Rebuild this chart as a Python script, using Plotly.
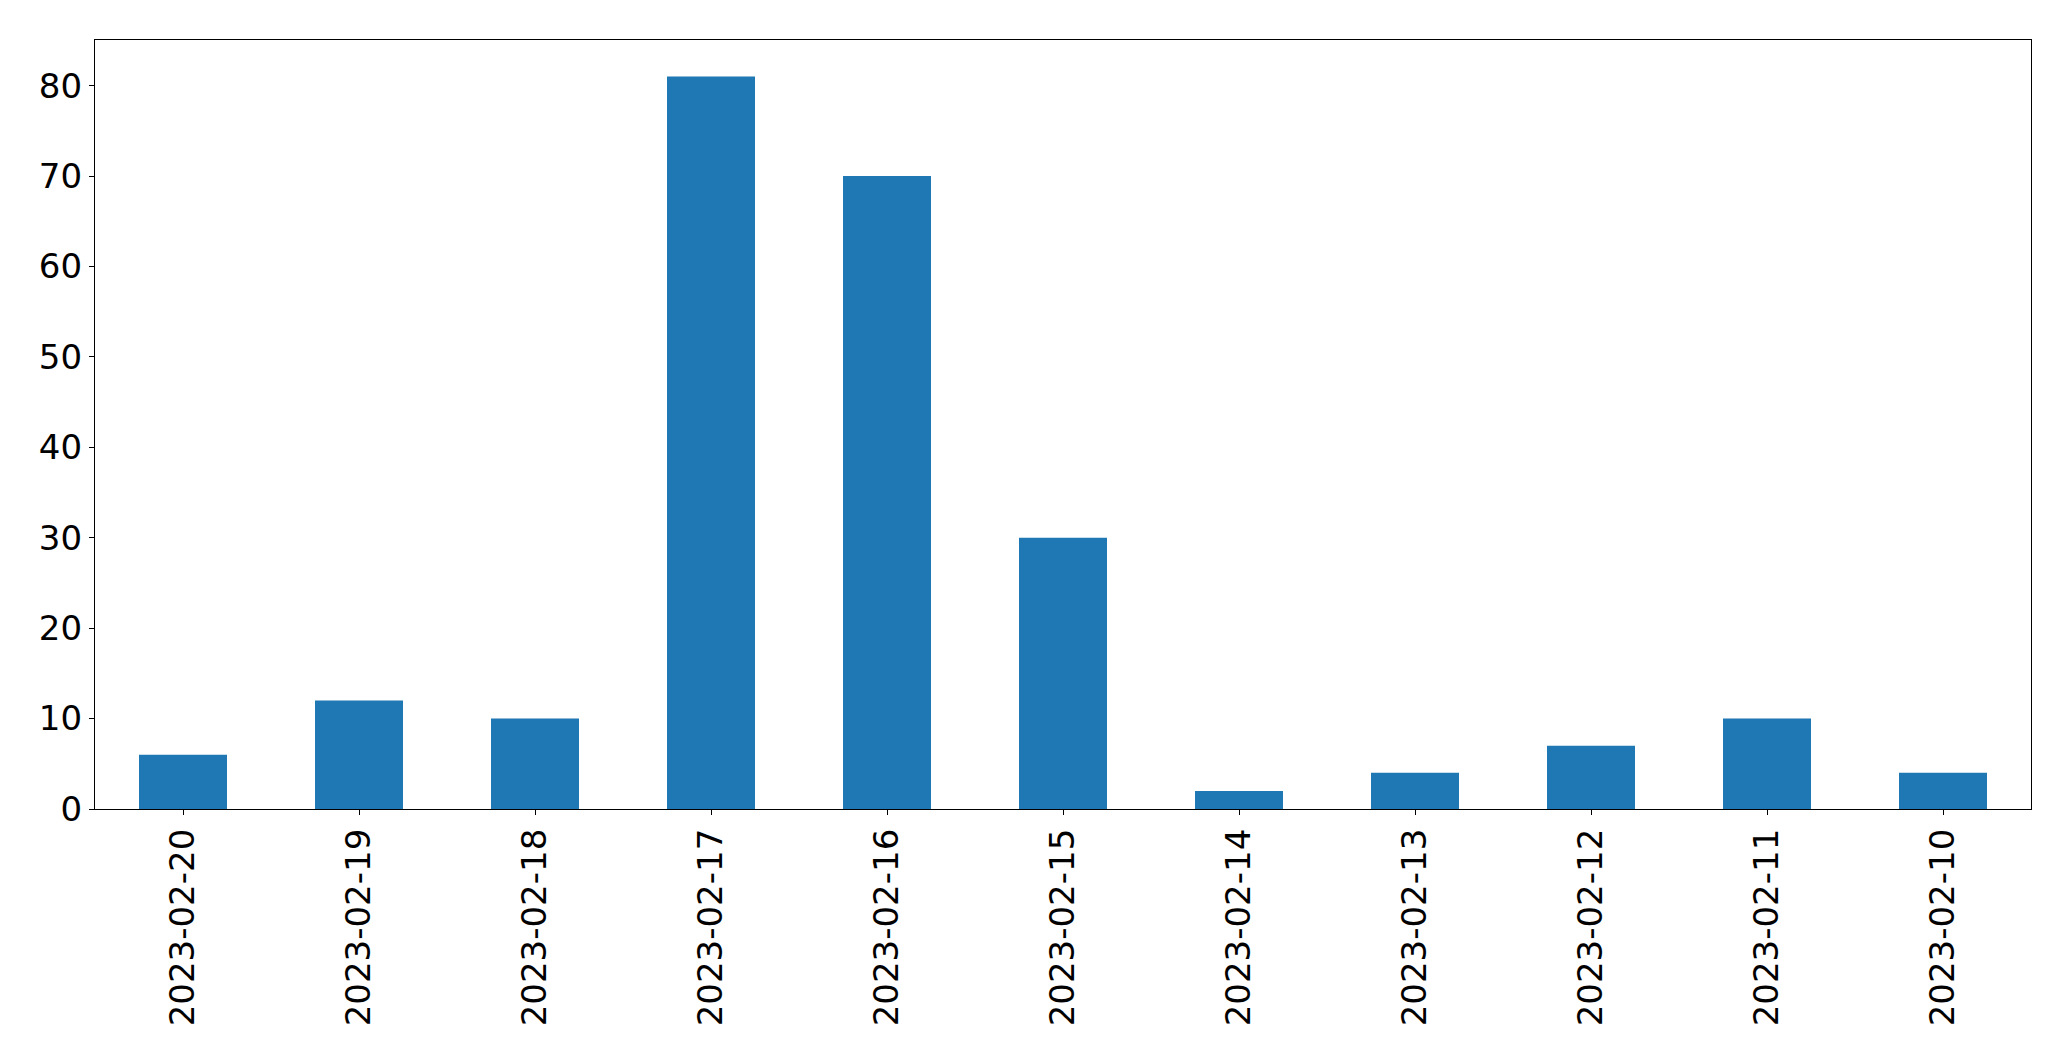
import plotly.graph_objects as go

dates = ["2023-02-20", "2023-02-19", "2023-02-18", "2023-02-17", "2023-02-16", "2023-02-15",
         "2023-02-14", "2023-02-13", "2023-02-12", "2023-02-11", "2023-02-10"]
counts = [6, 12, 10, 81, 70, 30, 2, 4, 7, 10, 4]
y_ticks = [0, 10, 20, 30, 40, 50, 60, 70, 80]

fig = go.Figure(go.Bar(x=dates, y=counts, marker=dict(color="#1f77b4", line=dict(width=0)), width=0.5))

axis_common = dict(showline=True, linecolor="black", linewidth=1.3, mirror=True,
                   ticks="outside", ticklen=5, tickwidth=1.3, tickcolor="black",
                   showgrid=False, zeroline=False,
                   tickfont=dict(family="DejaVu Sans", size=34, color="black"))

# page body has an 8px default margin, so the figure is offset by 8px
fig.update_layout(
    width=2063, height=1053,
    margin=dict(l=86.5, r=39.5, t=31.5, b=252),
    paper_bgcolor="white", plot_bgcolor="white",
    showlegend=False,
)
fig.update_xaxes(type="category", range=[-0.5, len(dates) - 0.5], tickangle=-90, **axis_common)
fig.update_yaxes(range=[0, 85.05], tickvals=y_ticks, ticktext=[str(v) for v in y_ticks], **axis_common)

fig.write_html("out.html")
